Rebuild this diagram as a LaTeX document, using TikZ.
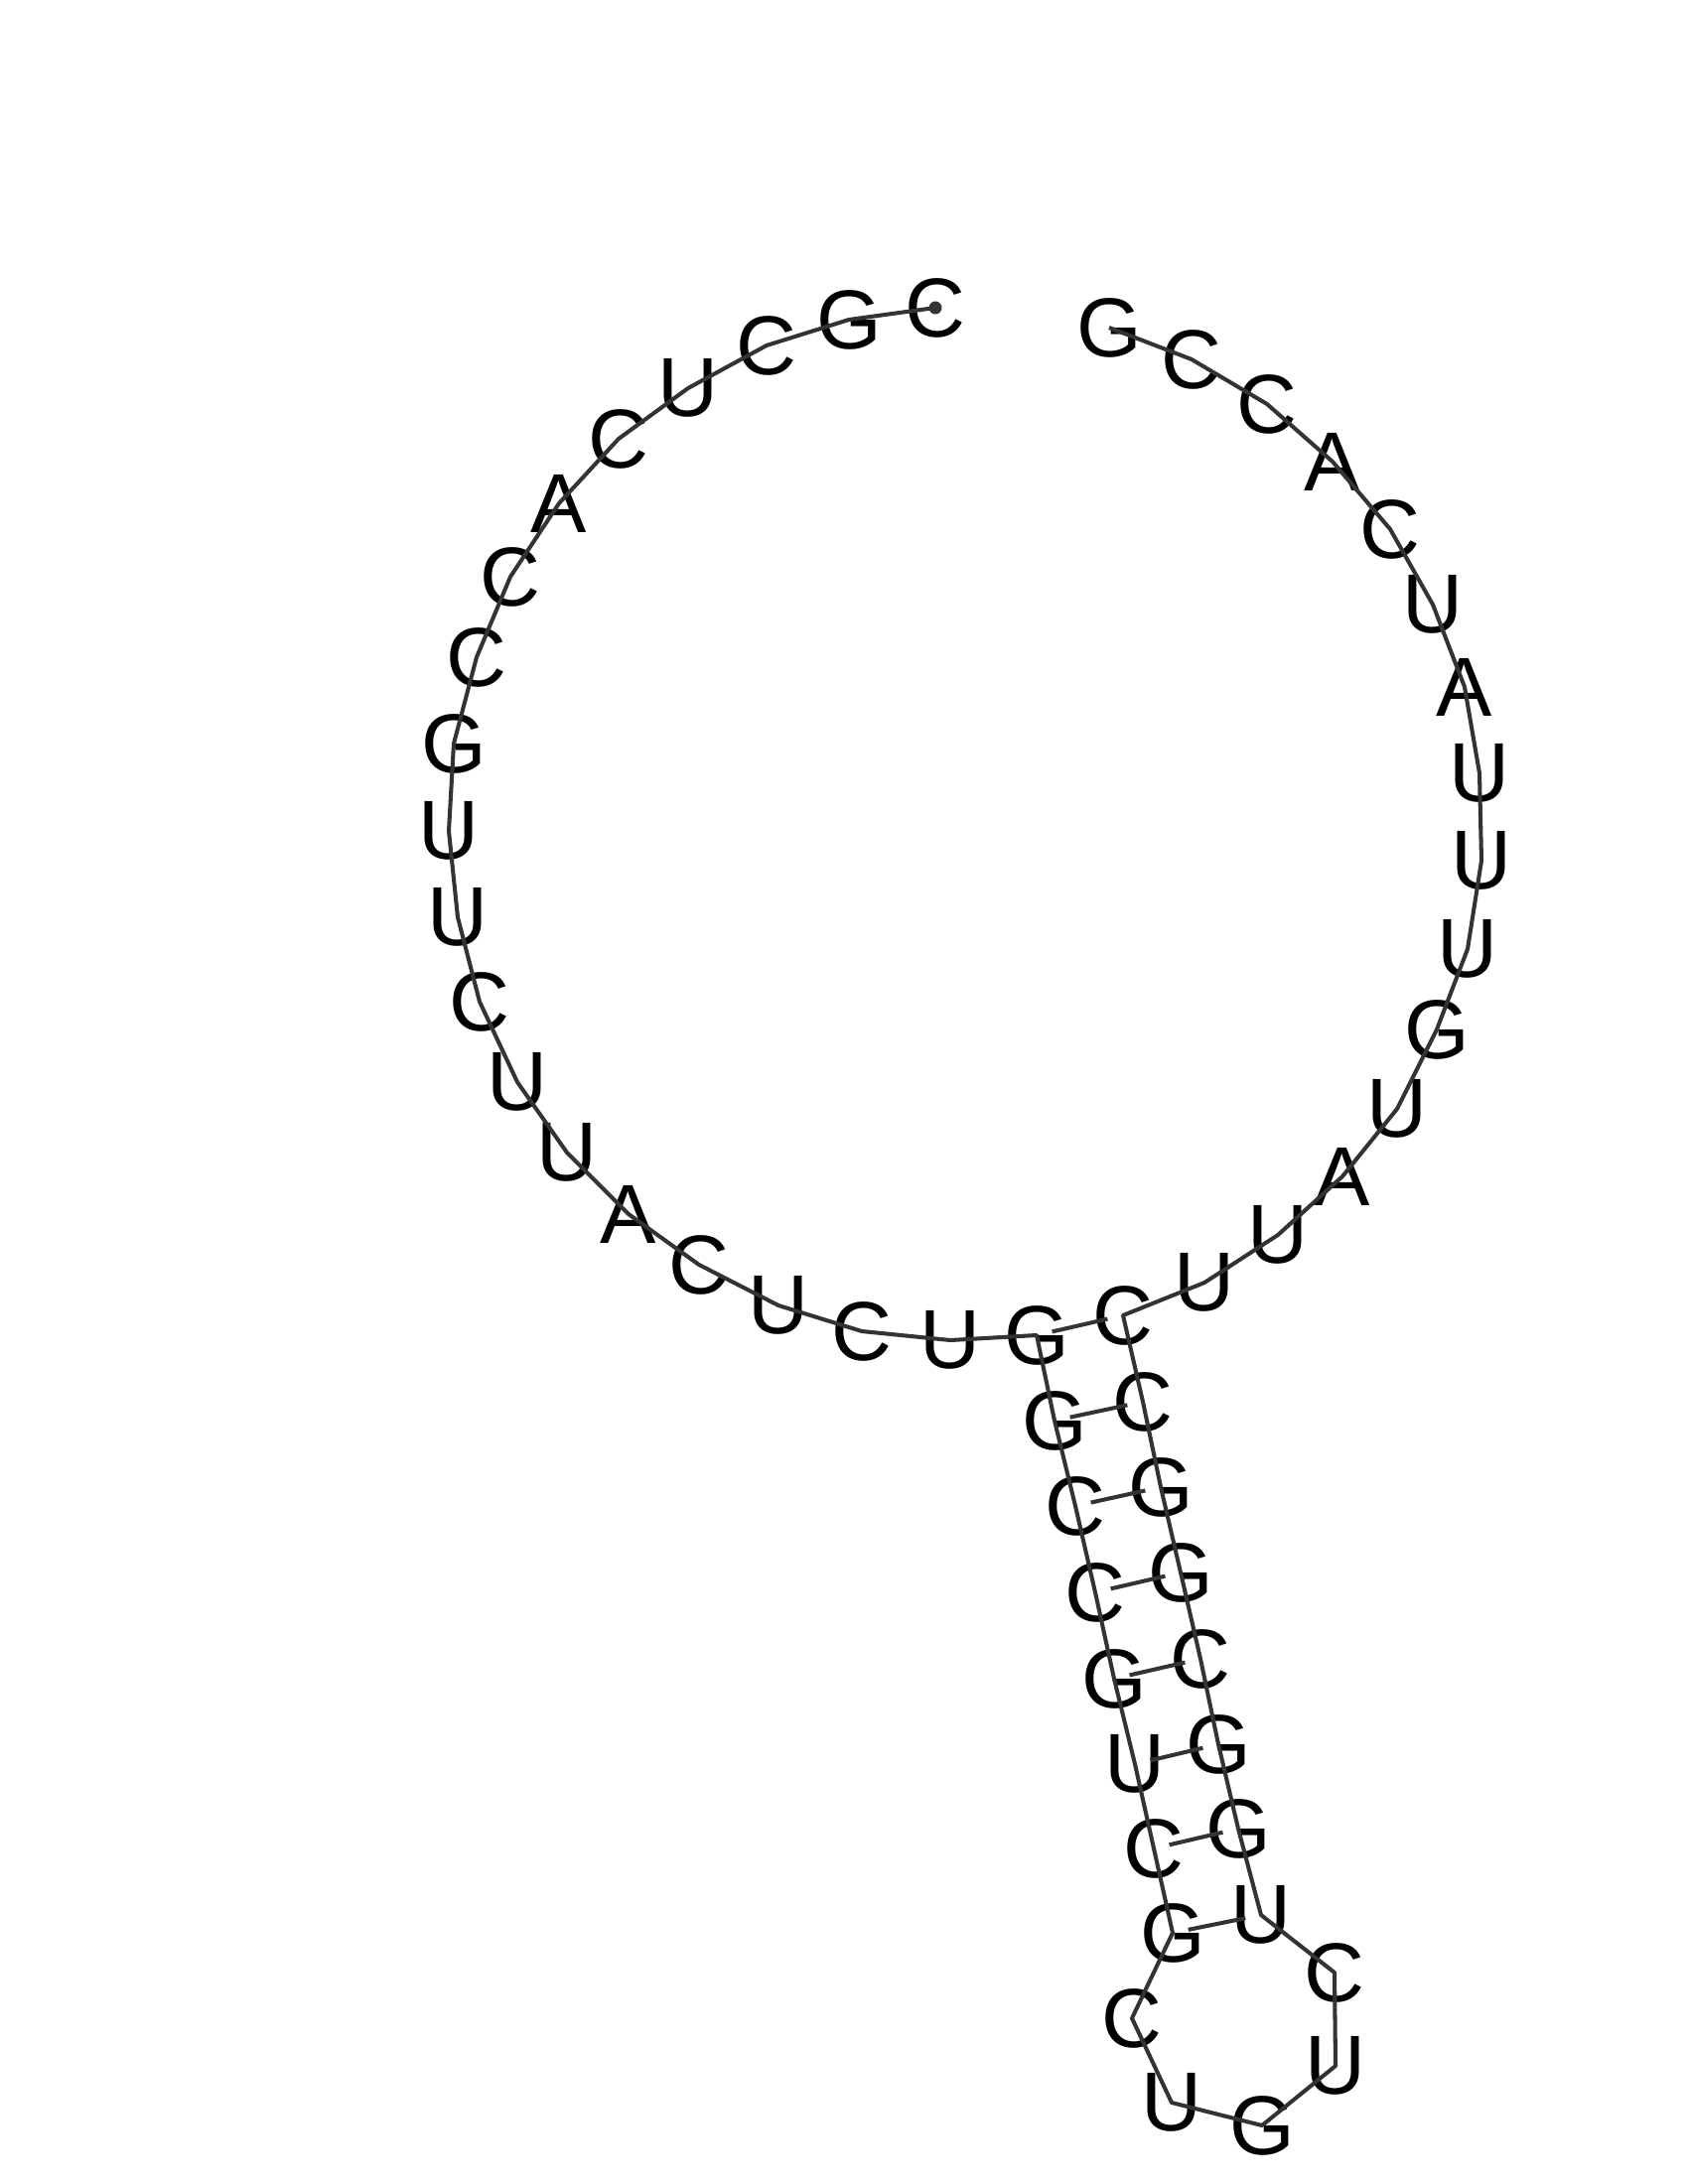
\documentclass[tikz,border=0pt]{standalone}
\usepackage{fontspec}
\setmainfont{Liberation Sans}

\begin{document}
\begin{tikzpicture}[x=0.01cm, y=-0.01cm, font=\fontsize{24}{29}\selectfont,
    every node/.style={inner sep=0pt},
    backbone/.style={draw=black!80, line width=1.15pt, line join=round},
    pair/.style={draw=black!80, line width=1.15pt, shorten >=0.16cm, shorten <=0.16cm}]
    \useasboundingbox (0, 0) rectangle (1700, 2200);

    % 5' strand, left arc
    \node (n1) at (942, 310) {C};
    \node (n2) at (855, 322) {G};
    \node (n3) at (772, 348) {C};
    \node (n4) at (693, 391) {U};
    \node (n5) at (623, 442) {C};
    \node (n6) at (563, 507) {A};
    \node (n7) at (514, 581) {C};
    \node (n8) at (480, 662) {C};
    \node (n9) at (457, 749) {G};
    \node (n10) at (452, 837) {U};
    \node (n11) at (461, 924) {U};
    \node (n12) at (483, 1009) {C};
    \node (n13) at (521, 1090) {U};
    \node (n14) at (571, 1161) {U};
    \node (n15) at (633, 1223) {A};
    \node (n16) at (704, 1274) {C};
    \node (n17) at (784, 1315) {U};
    \node (n18) at (868, 1341) {C};
    \node (n19) at (957, 1350) {U};
    \node (n20) at (1044, 1345) {G};
    % stem, going down
    \node (n21) at (1062, 1431) {G};
    \node (n22) at (1083, 1517) {C};
    \node (n23) at (1103, 1604) {C};
    \node (n24) at (1122, 1691) {G};
    \node (n25) at (1143, 1777) {U};
    \node (n26) at (1162, 1862) {C};
    \node (n27) at (1181, 1947) {G};
    % hairpin loop
    \node (n28) at (1140, 2033) {C};
    \node (n29) at (1180, 2118) {U};
    \node (n30) at (1271, 2141) {G};
    \node (n31) at (1345, 2081) {U};
    \node (n32) at (1344, 1987) {C};
    % stem, going up
    \node (n33) at (1270, 1929) {U};
    \node (n34) at (1247, 1842) {G};
    \node (n35) at (1227, 1757) {G};
    \node (n36) at (1209, 1671) {C};
    \node (n37) at (1189, 1584) {G};
    \node (n38) at (1169, 1498) {G};
    \node (n39) at (1151, 1412) {C};
    \node (n40) at (1131, 1325) {C};
    % 3' strand, right arc
    \node (n41) at (1213, 1292) {U};
    \node (n42) at (1287, 1244) {U};
    \node (n43) at (1352, 1185) {A};
    \node (n44) at (1407, 1117) {U};
    \node (n45) at (1447, 1037) {G};
    \node (n46) at (1478, 956) {U};
    \node (n47) at (1492, 867) {U};
    \node (n48) at (1490, 779) {U};
    \node (n49) at (1475, 692) {A};
    \node (n50) at (1443, 609) {U};
    \node (n51) at (1400, 533) {C};
    \node (n52) at (1342, 465) {A};
    \node (n53) at (1276, 407) {C};
    \node (n54) at (1200, 362) {C};
    \node (n55) at (1117, 330) {G};

    \draw[backbone] (n1.center) \foreach \i in {2,...,55} { -- (n\i.center) };
    \fill[black!80] (n1.center) circle[radius=0.65mm];

    \foreach \a/\b in {20/40, 21/39, 22/38, 23/37, 24/36, 25/35, 26/34, 27/33}
        \draw[pair] (n\a.center) -- (n\b.center);
\end{tikzpicture}
\end{document}
